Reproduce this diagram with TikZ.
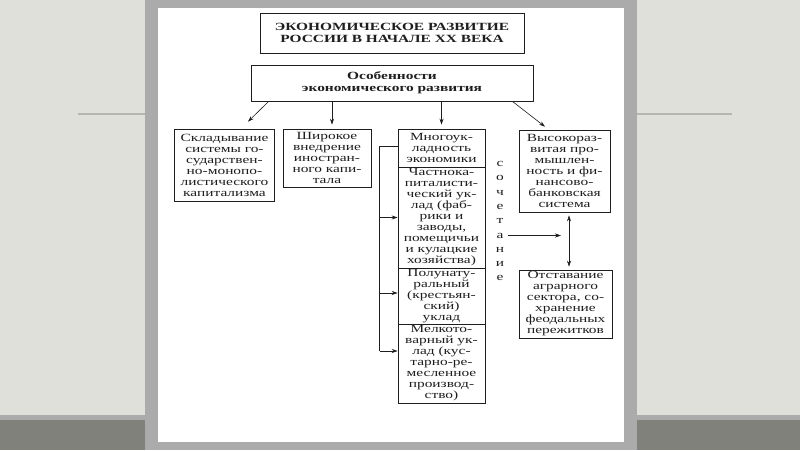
\documentclass[tikz,border=0pt]{standalone}
\usepackage{fontspec}
\setmainfont{Liberation Serif}[FakeStretch=1.4]
\usetikzlibrary{arrows.meta}
\definecolor{slidebg}{HTML}{E0E0DB}
\definecolor{slideframe}{HTML}{ABABAB}
\definecolor{slideband}{HTML}{80817B}
\definecolor{slideline}{HTML}{B5B5B1}
\definecolor{ink}{HTML}{1E1E1E}
\tikzset{
	blk/.style={draw=ink, line width=0.6pt, text=ink, align=center, inner sep=1pt,
		font=\fontsize{11}{11}\selectfont},
	hdr/.style={blk, font=\bfseries\fontsize{11}{12}\selectfont},
	arr/.style={draw=ink, line width=0.6pt, -{Stealth[length=6pt,width=4pt]}},
	dbl/.style={draw=ink, line width=0.6pt, {Stealth[length=6pt,width=4pt]}-{Stealth[length=6pt,width=4pt]}},
	letter/.style={text=ink, inner sep=0pt, font=\fontsize{11}{11}\selectfont}
}
\begin{document}
\begin{tikzpicture}[x=1pt, y=-1pt]
		\useasboundingbox (0,0) rectangle (800,450);
		\fill[slidebg] (0,0) rectangle (800,450);
		\fill[slideframe] (0,415) rectangle (800,420);
		\fill[slideband] (0,420) rectangle (800,450);
		\draw[slideline, line width=1.2pt] (78,114) -- (145,114) (637,114) -- (732,114);
		\fill[slideframe] (145,0) rectangle (637,450);
		\fill[white] (158,8) rectangle (624,442);

		\node[hdr, minimum width=264, minimum height=40] (title) at (392,33)
			{ЭКОНОМИЧЕСКОЕ РАЗВИТИЕ\\РОССИИ В НАЧАЛЕ XX ВЕКА};
		\node[hdr, minimum width=282, minimum height=36] (feat) at (392,83)
			{Особенности\\экономического развития};

		\node[blk, minimum width=100, minimum height=72] (sklad) at (224.5,165)
			{Складывание\\системы го-\\сударствен-\\но-монопо-\\листического\\капитализма};
		\node[blk, minimum width=88, minimum height=58] (shir) at (327,158)
			{Широкое\\внедрение\\иностран-\\ного капи-\\тала};
		\node[blk, minimum width=87, minimum height=38] (mnog) at (441.5,148)
			{Многоук-\\ладность\\экономики};
		\node[blk, minimum width=87, minimum height=101] (chast) at (441.5,217.5)
			{Частнока-\\питалисти-\\ческий ук-\\лад (фаб-\\рики и\\заводы,\\помещичьи\\и кулацкие\\хозяйства)};
		\node[blk, minimum width=87, minimum height=56] (polu) at (441.5,296)
			{Полунату-\\ральный\\(крестьян-\\ский)\\уклад};
		\node[blk, minimum width=87, minimum height=79] (melk) at (441.5,363.5)
			{Мелкото-\\варный ук-\\лад (кус-\\тарно-ре-\\месленное\\производ-\\ство)};
		\node[blk, minimum width=91, minimum height=82] (vys) at (564.5,171)
			{Высокораз-\\витая про-\\мышлен-\\ность и фи-\\нансово-\\банковская\\система};
		\node[blk, minimum width=93, minimum height=68] (otst) at (565.5,304)
			{Отставание\\аграрного\\сектора, со-\\хранение\\феодальных\\пережитков};

		\foreach \ch [count=\i] in {с,о,ч,е,т,а,н,и,е}
			\node[letter] (s\i) at (500,164+14.3*\i-14.3) {\ch};

		\draw[arr] ([xshift=18pt]feat.south west) -- ([xshift=23.5pt,yshift=7pt]sklad.north);
		\draw[arr] ([xshift=5pt]shir.north |- feat.south) -- ([xshift=5pt,yshift=4pt]shir.north);
		\draw[arr] (mnog.north |- feat.south) -- ([yshift=4pt]mnog.north);
		\draw[arr] ([xshift=-21pt]feat.south east) -- ([xshift=-19.5pt,yshift=3pt]vys.north);

		\coordinate (brk) at ([xshift=-18pt,yshift=2pt]mnog.west);
		\coordinate (poluin) at ([yshift=3pt]polu.west);
		\coordinate (melkin) at ([yshift=12.5pt]melk.west);
		\draw[ink, line width=0.6pt] ([yshift=2pt]mnog.west) -- (brk) -- (brk |- melkin);
		\draw[arr] (brk |- chast.west) -- (chast.west);
		\draw[arr] (brk |- poluin) -- (poluin);
		\draw[arr] (brk |- melkin) -- (melkin);

		\coordinate (dtop) at ([xshift=4.5pt]vys.south);
		\coordinate (dbot) at (dtop |- otst.north);
		\draw[dbl, shorten <=3pt, shorten >=3pt] (dtop) -- (dbot);
		\draw[arr, shorten <=4pt] (s6.east) -- ([xshift=-8pt]s6 -| dtop);
\end{tikzpicture}
\end{document}
